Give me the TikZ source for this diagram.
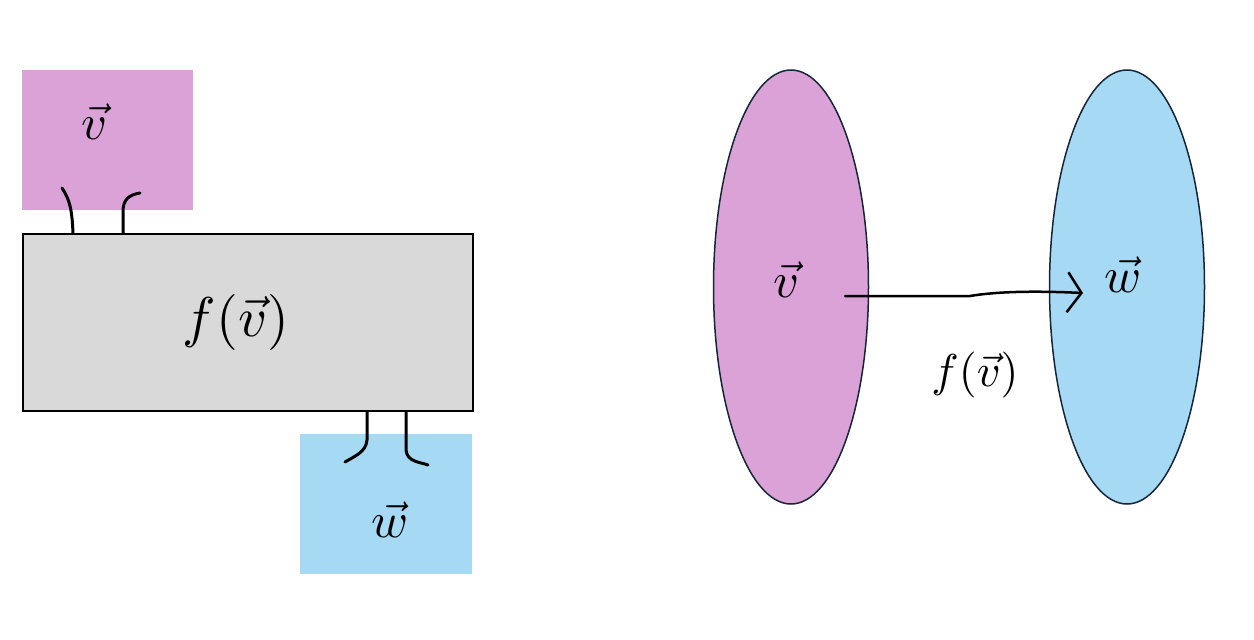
\documentclass[tikz,border=0pt]{standalone}
\usepackage{graphicx}
\usetikzlibrary{arrows.meta,calc,shapes.geometric}
\definecolor{pinkfill}{RGB}{219,162,216}
\definecolor{bluefill}{RGB}{165,217,244}
\definecolor{grayfill}{RGB}{217,217,217}
\definecolor{edgenavy}{RGB}{22,38,56}
\newcommand{\bigmath}[2]{\scalebox{#1}{$#2$}}
\begin{document}
\begin{tikzpicture}[x=1pt,y=-1pt,
  hand/.style={line width=3pt,line cap=round,line join=round},
  lbl/.style={inner sep=0pt}]
\useasboundingbox (0,0) rectangle (1254,640);
% left diagram
\node[draw=none,fill=pinkfill,minimum width=171pt,minimum height=140pt,anchor=north west,inner sep=0pt] (vbox) at (22,70) {};
\node[draw=black,line width=1.5pt,fill=grayfill,minimum width=450pt,minimum height=177pt,anchor=north west,inner sep=0pt] (fbox) at (22,233) {};
\node[draw=none,fill=bluefill,minimum width=172pt,minimum height=140pt,anchor=north west,inner sep=0pt] (wbox) at (300,434) {};
\node[lbl] (vtext) at (95,122) {\bigmath{5}{\vec{v}}};
\node[lbl] (ftext) at (236,322) {\bigmath{5.6}{f(\vec{v})}};
\node[lbl] (wtext) at (390,520) {\bigmath{5}{\vec{w}}};
% wires
\coordinate (a1) at (62,188);
\coordinate (a2) at (140,193);
\coordinate (b1) at (345,462);
\coordinate (b2) at (428,465);
\draw[hand] (a1) .. controls (70,200) and (72,210) .. (73,233 |- fbox.north);
\draw[hand] (a2) .. controls (128,195) and (123,200) .. (123,212) -- (123,233 |- fbox.north);
\draw[hand] (367,410 |- fbox.south) -- (367,440) .. controls (366,452) and (355,456) .. (b1);
\draw[hand] (406,410 |- fbox.south) -- (406,450) .. controls (407,462) and (420,462) .. (b2);
% right diagram
\node[draw=edgenavy,line width=1.5pt,fill=pinkfill,ellipse,minimum width=155pt,minimum height=434pt,inner sep=0pt] (V) at (791,287) {};
\node[draw=edgenavy,line width=1.5pt,fill=bluefill,ellipse,minimum width=155pt,minimum height=434pt,inner sep=0pt] (W) at (1127,287) {};
\node[lbl] (vin) at (787,280) {\bigmath{5}{\vec{v}}};
\node[lbl] (win) at (1123,275) {\bigmath{5}{\vec{w}}};
\coordinate (astart) at (845,296);
\coordinate (aend) at (1083,293);
\draw[line width=2.5pt,line cap=round,-{Straight Barb[length=14pt,width=40pt,line width=2.5pt]}]
  (astart) -- (970,296) .. controls (1000,291) and (1040,291) .. (aend);
\node[lbl] (flabel) at (975,375) {\bigmath{4.6}{f(\vec{v})}};
\end{tikzpicture}
\end{document}
